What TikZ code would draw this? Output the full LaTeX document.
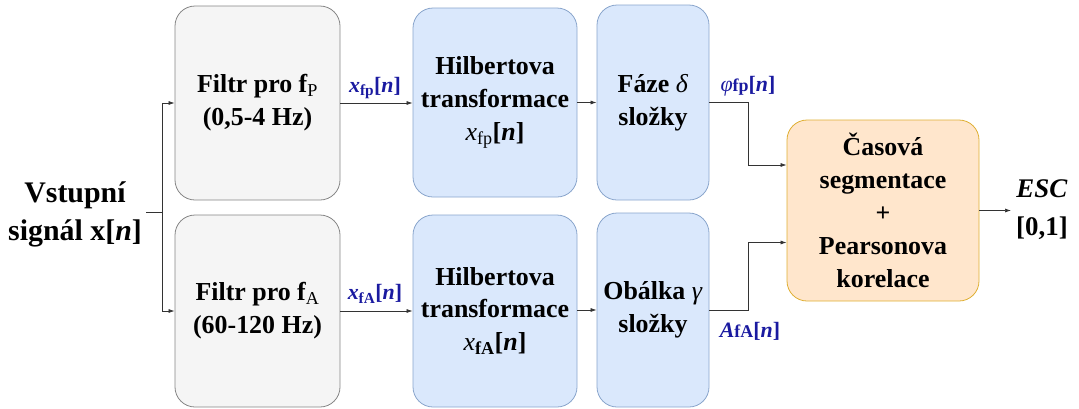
\documentclass[tikz,border=0pt]{standalone}
\usepackage{fontspec}
\setmainfont{Liberation Serif}[BoldFont={Liberation Serif Bold},ItalicFont={Liberation Serif Italic},BoldItalicFont={Liberation Serif Bold Italic}]
\usetikzlibrary{arrows.meta,calc}
\definecolor{gfill}{HTML}{F5F5F5}
\definecolor{gdraw}{HTML}{666666}
\definecolor{bfill}{HTML}{DAE8FC}
\definecolor{bdraw}{HTML}{6C8EBF}
\definecolor{ofill}{HTML}{FFE6CC}
\definecolor{odraw}{HTML}{D79B00}
\definecolor{lblue}{HTML}{1A1AA0}
\begin{document}
\begin{tikzpicture}[x=1bp,y=-1bp,
  box/.style={rectangle,rounded corners=20bp,line width=0.8bp,align=center,inner sep=0pt,
    font=\fontsize{26}{33}\selectfont\bfseries},
  gbox/.style={box,fill=gfill,draw=gdraw!80},
  bbox/.style={box,fill=bfill,draw=bdraw!80},
  obox/.style={box,fill=ofill,draw=odraw!80},
  conn/.style={line width=0.7bp,draw=black!80},
  arr/.style={conn,-{Latex[length=6bp,width=4bp]}},
  lbl/.style={text=lblue,font=\fontsize{22}{24}\selectfont\bfseries,inner sep=1bp},
  plain/.style={align=center,font=\fontsize{27}{38}\selectfont\bfseries,inner sep=4bp}]
\useasboundingbox (0,0) rectangle (1079,408);

\node[gbox,minimum width=165bp,minimum height=194bp] (ftop) at (257.5,103)
  {Filtr pro f\textsubscript{\mdseries P}\\(0,5-4 Hz)};
\node[gbox,minimum width=165bp,minimum height=192bp] (fbot) at (257.5,311)
  {Filtr pro f\textsubscript{\mdseries A}\\(60-120 Hz)};
\node[bbox,minimum width=164bp,minimum height=189bp] (htop) at (495,102.5)
  {Hilbertova\\transformace\\{\mdseries\itshape x}\textsubscript{\mdseries fp}[\textit{n}]};
\node[bbox,minimum width=164bp,minimum height=192bp] (hbot) at (495,311)
  {Hilbertova\\transformace\\{\mdseries\itshape x}\textsubscript{fA}[\textit{n}]};
\node[bbox,minimum width=112bp,minimum height=195bp] (faze) at (653,102.5)
  {Fáze \textit{\mdseries δ}\\složky};
\node[bbox,minimum width=112bp,minimum height=194bp] (obal) at (653,310)
  {Obálka \textit{\mdseries γ}\\složky};
\node[obox,minimum width=192bp,minimum height=181bp] (corr) at (883,210.5)
  {Časová\\segmentace\\+\\Pearsonova\\korelace};

\node[plain,font=\fontsize{30}{38}\selectfont\bfseries] (in) at (75,214) {Vstupní\\signál x[\textit{n}]};
\node[plain,inner sep=5bp] (esc) at (1042,210) {\textit{ESC}\\{}[0,1]};

\coordinate (split) at (162,212);
\draw[conn] (in.east |- split) -- (split);
\draw[arr] (split) |- (ftop.west);
\draw[arr] (split) |- (fbot.west);

\draw[arr] (ftop.east) -- (ftop.east -| htop.west);
\draw[arr] (fbot.east) -- (fbot.east -| hbot.west);
\draw[arr] (htop.east |- faze.west) -- (faze.west);
\draw[arr] (hbot.east |- obal.west) -- (obal.west);

\draw[arr] (faze.east) -- ++(39,0) |- ($(corr.west)+(0,-45.5)$);
\draw[arr] (obal.east) -- ++(39,0) |- ($(corr.west)+(0,32)$);
\draw[arr] (corr.east) -- (esc.west |- corr.east);

\node[lbl] (l1) at (375,88) {\textit{x}\textsubscript{fp}[\textit{n}]};
\node[lbl] (l2) at (375,294) {\textit{x}\textsubscript{fA}[\textit{n}]};
\node[lbl] (l3) at (748,86) {\textit{\mdseries φ}{\fontsize{18}{20}\selectfont fp}[\textit{n}]};
\node[lbl] (l4) at (750,331) {\textit{A}{\fontsize{18}{20}\selectfont fA}[\textit{n}]};
\end{tikzpicture}
\end{document}
